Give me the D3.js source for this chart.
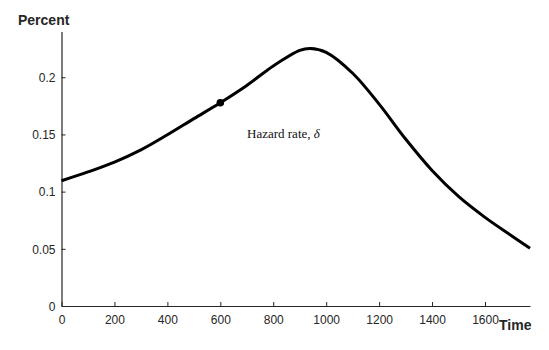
<!DOCTYPE html>
<html>
<head>
<meta charset="utf-8">
<script src="https://cdn.jsdelivr.net/npm/d3@7"></script>
<style>
  html, body { margin: 0; padding: 0; background: #fff; }
  svg { display: block; }
</style>
</head>
<body>
<svg id="chart" width="549" height="350"></svg>
<script>
// Hazard rate over time
const times = [0, 100, 200, 300, 400, 500, 600, 700, 800, 900, 940, 1000, 1100, 1200, 1300, 1400, 1500, 1600, 1700, 1770];
const hazard = [0.1095, 0.1172, 0.1258, 0.1365, 0.1497, 0.1638, 0.1777, 0.1928, 0.2099, 0.2235, 0.2252, 0.2218, 0.2035, 0.1765, 0.146, 0.1185, 0.0958, 0.0775, 0.0615, 0.0504];
const markerTime = [600];
const markerValue = [0.1777];
const xTicks = [0, 200, 400, 600, 800, 1000, 1200, 1400, 1600];
const yTicks = [0, 0.05, 0.1, 0.15, 0.2];

const svg = d3.select("#chart");
const plotLeft = 61.5, plotRight = 530, plotTop = 31.5, plotBottom = 306;

const x = d3.scaleLinear().domain([0, 1770]).range([plotLeft, plotRight]);
const y = d3.scaleLinear().domain([0, 0.24]).range([plotBottom, plotTop]);

const axisColor = "#262626";
const tickFont = "Liberation Sans, Arial, Helvetica, sans-serif";

// x axis (ticks pointing into the plot)
const gx = svg.append("g").attr("transform", `translate(0,${plotBottom})`)
  .call(d3.axisTop(x).tickValues(xTicks).tickSize(4).tickSizeOuter(0).tickFormat(d3.format("d")));
gx.select(".domain").attr("stroke", axisColor).attr("stroke-width", 1.2);
gx.selectAll(".tick line").attr("stroke", axisColor);
gx.selectAll(".tick text")
  .attr("y", 17.5).attr("dy", 0)
  .attr("font-family", tickFont).attr("font-size", 12).attr("fill", axisColor);

// y axis
const gy = svg.append("g").attr("transform", `translate(${plotLeft},0)`)
  .call(d3.axisRight(y).tickValues(yTicks).tickSize(4).tickSizeOuter(0).tickFormat(d => String(+d.toFixed(2))));
gy.select(".domain").attr("stroke", axisColor).attr("stroke-width", 1.2);
gy.selectAll(".tick line").attr("stroke", axisColor);
gy.selectAll(".tick text")
  .attr("x", -6).attr("dy", "0.36em").attr("text-anchor", "end")
  .attr("font-family", tickFont).attr("font-size", 12).attr("fill", axisColor);

// axis titles
svg.append("text").attr("x", 18).attr("y", 25)
  .attr("font-family", tickFont).attr("font-weight", "bold").attr("font-size", 14)
  .attr("fill", axisColor).text("Percent");
svg.append("text").attr("x", 499).attr("y", 330)
  .attr("font-family", tickFont).attr("font-weight", "bold").attr("font-size", 14)
  .attr("fill", axisColor).text("Time");

// hazard curve
const pts = times.map((t, i) => [t, hazard[i]]);
const line = d3.line().x(d => x(d[0])).y(d => y(d[1])).curve(d3.curveCatmullRom.alpha(0.5));
svg.append("path").datum(pts)
  .attr("d", line).attr("fill", "none").attr("stroke", "#000").attr("stroke-width", 3);

// marker
svg.selectAll("circle.marker").data(markerTime.map((t, i) => [t, markerValue[i]]))
  .enter().append("circle").attr("class", "marker")
  .attr("cx", d => x(d[0])).attr("cy", d => y(d[1])).attr("r", 3.8).attr("fill", "#000");

// curve label
const lbl = svg.append("text").attr("x", 247).attr("y", 138)
  .attr("font-family", "Liberation Serif, Times New Roman, serif").attr("font-size", 13).attr("fill", "#111");
lbl.append("tspan").text("Hazard rate, ");
lbl.append("tspan").attr("font-style", "italic").text("δ");
</script>
</body>
</html>
